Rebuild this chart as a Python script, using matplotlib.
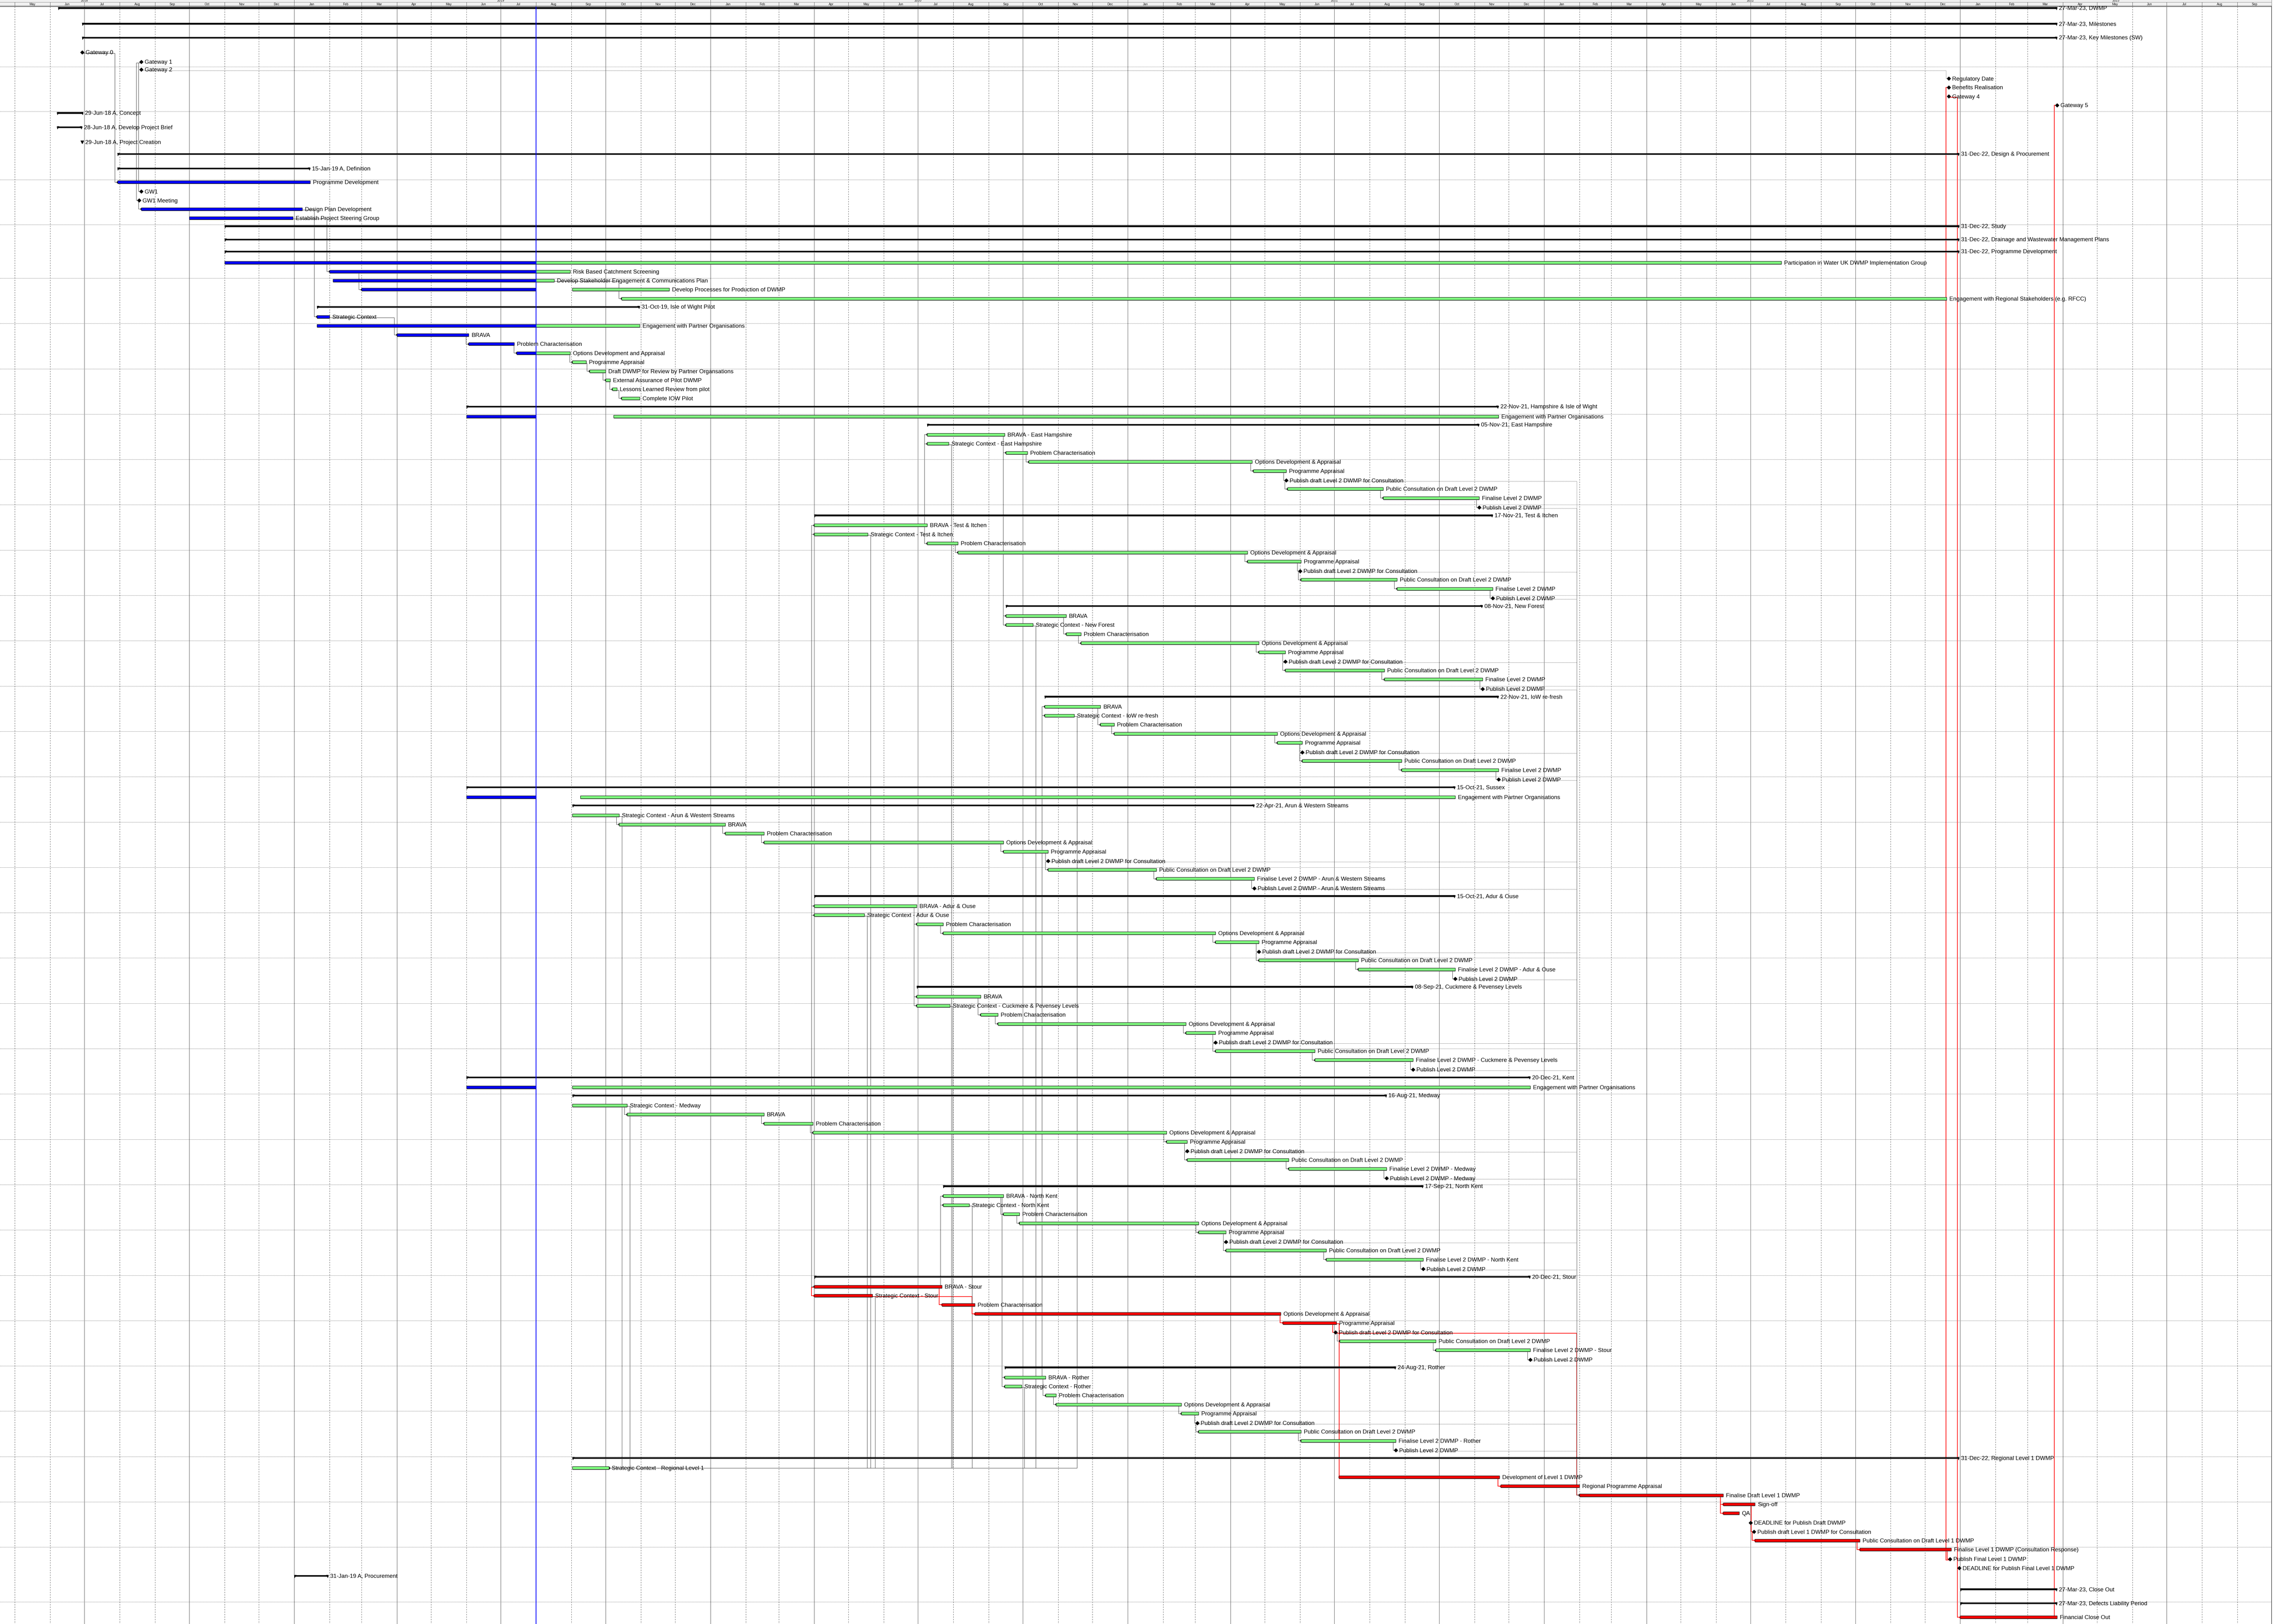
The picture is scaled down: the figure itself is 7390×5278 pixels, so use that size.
import matplotlib
matplotlib.use('Agg')
import matplotlib.pyplot as plt
import matplotlib.dates as mdates
from matplotlib.patches import Rectangle, Polygon
import numpy as np
import datetime as dt

plt.rcParams['font.family'] = ['Liberation Sans', 'DejaVu Sans']

# ---------------------------------------------------------------- data
DATA_DATE = '2019-08-01'
VIEW_END = '2023-10-01'

labels = [
    # 0-9
    '27-Mar-23, DWMP', '27-Mar-23, Milestones', '27-Mar-23, Key Milestones (SW)', 'Gateway 0', 'Gateway 1',
    'Gateway 2', 'Regulatory Date', 'Benefits Realisation', 'Gateway 4', 'Gateway 5',
    # 10-19
    '29-Jun-18 A, Concept', '28-Jun-18 A, Develop Project Brief', '29-Jun-18 A, Project Creation',
    '31-Dec-22, Design & Procurement', '15-Jan-19 A, Definition', 'Programme Development', 'GW1', 'GW1 Meeting',
    'Design Plan Development', 'Establish Project Steering Group',
    # 20-29
    '31-Dec-22, Study', '31-Dec-22, Drainage and Wastewater Management Plans', '31-Dec-22, Programme Development',
    'Participation in Water UK DWMP Implementation Group', 'Risk Based Catchment Screening',
    'Develop Stakeholder Engagement & Communications Plan', 'Develop Processes for Production of DWMP',
    'Engagement with Regional Stakeholders (e.g. RFCC)', '31-Oct-19, Isle of Wight Pilot', 'Strategic Context',
    # 30-40
    'Engagement with Partner Organisations', 'BRAVA', 'Problem Characterisation', 'Options Development and Appraisal',
    'Programme Appraisal', 'Draft DWMP for Review by Partner Organsations', 'External Assurance of Pilot DWMP',
    'Lessons Learned Review from pilot', 'Complete IOW Pilot', '22-Nov-21, Hampshire & Isle of Wight',
    'Engagement with Partner Organisations',
    # 41-50 East Hampshire
    '05-Nov-21, East Hampshire', 'BRAVA - East Hampshire', 'Strategic Context - East Hampshire',
    'Problem Characterisation', 'Options Development & Appraisal', 'Programme Appraisal',
    'Publish draft Level 2 DWMP for Consultation', 'Public Consultation on Draft Level 2 DWMP',
    'Finalise Level 2 DWMP', 'Publish Level 2 DWMP',
    # 51-60 Test & Itchen
    '17-Nov-21, Test & Itchen', 'BRAVA - Test & Itchen', 'Strategic Context - Test & Itchen',
    'Problem Characterisation', 'Options Development & Appraisal', 'Programme Appraisal',
    'Publish draft Level 2 DWMP for Consultation', 'Public Consultation on Draft Level 2 DWMP',
    'Finalise Level 2 DWMP', 'Publish Level 2 DWMP',
    # 61-70 New Forest
    '08-Nov-21, New Forest', 'BRAVA', 'Strategic Context - New Forest',
    'Problem Characterisation', 'Options Development & Appraisal', 'Programme Appraisal',
    'Publish draft Level 2 DWMP for Consultation', 'Public Consultation on Draft Level 2 DWMP',
    'Finalise Level 2 DWMP', 'Publish Level 2 DWMP',
    # 71-80 IoW re-fresh
    '22-Nov-21, IoW re-fresh', 'BRAVA', 'Strategic Context - IoW re-fresh',
    'Problem Characterisation', 'Options Development & Appraisal', 'Programme Appraisal',
    'Publish draft Level 2 DWMP for Consultation', 'Public Consultation on Draft Level 2 DWMP',
    'Finalise Level 2 DWMP', 'Publish Level 2 DWMP',
    # 81-82 Sussex
    '15-Oct-21, Sussex', 'Engagement with Partner Organisations',
    # 83-92 Arun & Western Streams
    '22-Apr-21, Arun & Western Streams', 'Strategic Context - Arun & Western Streams', 'BRAVA',
    'Problem Characterisation', 'Options Development & Appraisal', 'Programme Appraisal',
    'Publish draft Level 2 DWMP for Consultation', 'Public Consultation on Draft Level 2 DWMP',
    'Finalise Level 2 DWMP - Arun & Western Streams', 'Publish Level 2 DWMP - Arun & Western Streams',
    # 93-102 Adur & Ouse
    '15-Oct-21, Adur & Ouse', 'BRAVA - Adur & Ouse', 'Strategic Context - Adur & Ouse',
    'Problem Characterisation', 'Options Development & Appraisal', 'Programme Appraisal',
    'Publish draft Level 2 DWMP for Consultation', 'Public Consultation on Draft Level 2 DWMP',
    'Finalise Level 2 DWMP - Adur & Ouse', 'Publish Level 2 DWMP',
    # 103-112 Cuckmere & Pevensey Levels
    '08-Sep-21, Cuckmere & Pevensey Levels', 'BRAVA', 'Strategic Context - Cuckmere & Pevensey Levels',
    'Problem Characterisation', 'Options Development & Appraisal', 'Programme Appraisal',
    'Publish draft Level 2 DWMP for Consultation', 'Public Consultation on Draft Level 2 DWMP',
    'Finalise Level 2 DWMP - Cuckmere & Pevensey Levels', 'Publish Level 2 DWMP',
    # 113-114 Kent
    '20-Dec-21, Kent', 'Engagement with Partner Organisations',
    # 115-124 Medway
    '16-Aug-21, Medway', 'Strategic Context - Medway', 'BRAVA',
    'Problem Characterisation', 'Options Development & Appraisal', 'Programme Appraisal',
    'Publish draft Level 2 DWMP for Consultation', 'Public Consultation on Draft Level 2 DWMP',
    'Finalise Level 2 DWMP - Medway', 'Publish Level 2 DWMP - Medway',
    # 125-134 North Kent
    '17-Sep-21, North Kent', 'BRAVA - North Kent', 'Strategic Context - North Kent',
    'Problem Characterisation', 'Options Development & Appraisal', 'Programme Appraisal',
    'Publish draft Level 2 DWMP for Consultation', 'Public Consultation on Draft Level 2 DWMP',
    'Finalise Level 2 DWMP - North Kent', 'Publish Level 2 DWMP',
    # 135-144 Stour
    '20-Dec-21, Stour', 'BRAVA - Stour', 'Strategic Context - Stour',
    'Problem Characterisation', 'Options Development & Appraisal', 'Programme Appraisal',
    'Publish draft Level 2 DWMP for Consultation', 'Public Consultation on Draft Level 2 DWMP',
    'Finalise Level 2 DWMP - Stour', 'Publish Level 2 DWMP',
    # 145-154 Rother
    '24-Aug-21, Rother', 'BRAVA - Rother', 'Strategic Context - Rother',
    'Problem Characterisation', 'Options Development & Appraisal', 'Programme Appraisal',
    'Publish draft Level 2 DWMP for Consultation', 'Public Consultation on Draft Level 2 DWMP',
    'Finalise Level 2 DWMP - Rother', 'Publish Level 2 DWMP',
    # 155-167 Regional Level 1
    '31-Dec-22, Regional Level 1 DWMP', 'Strategic Context - Regional Level 1', 'Development of Level 1 DWMP',
    'Regional Programme Appraisal', 'Finalise Draft Level 1 DWMP', 'Sign-off', 'QA',
    'DEADLINE for Publish Draft DWMP', 'Publish draft Level 1 DWMP for Consultation',
    'Public Consultation on Draft Level 1 DWMP', 'Finalise Level 1 DWMP (Consultation Response)',
    'Publish Final Level 1 DWMP', 'DEADLINE for Publish Final Level 1 DWMP',
    # 168-171
    '31-Jan-19 A, Procurement', '27-Mar-23, Close Out', '27-Mar-23, Defects Liability Period', 'Financial Close Out',
]

# S summary, A actual, R remaining, C critical, AR actual+remaining, M milestone, MD completed milestone
CATCH = ['S', 'R', 'R', 'R', 'R', 'R', 'M', 'R', 'R', 'M']
kinds = (['S', 'S', 'S', 'M', 'M', 'M', 'M', 'M', 'M', 'M',
          'S', 'S', 'MD', 'S', 'S', 'A', 'M', 'M', 'A', 'A',
          'S', 'S', 'S', 'AR', 'AR', 'AR', 'AR', 'R', 'S', 'A',
          'AR', 'A', 'A', 'AR', 'R', 'R', 'R', 'R', 'R', 'S', 'AR']
         + CATCH * 4 + ['S', 'AR'] + CATCH * 3 + ['S', 'AR'] + CATCH * 2
         + ['S', 'C', 'C', 'C', 'C', 'C', 'M', 'R', 'R', 'M'] + CATCH
         + ['S', 'R', 'C', 'C', 'C', 'C', 'C', 'M', 'M', 'C', 'C', 'M', 'M']
         + ['S', 'S', 'S', 'C'])

starts = [
    '2018-06-08', '2018-06-29', '2018-06-29', '2018-06-29', '2018-08-20',
    '2018-08-20', '2022-12-22', '2022-12-22', '2022-12-22', '2023-03-27',
    '2018-06-07', '2018-06-07', '2018-06-29', '2018-07-30', '2018-07-30',
    '2018-07-30', '2018-08-20', '2018-08-18', '2018-08-20', '2018-10-01',
    '2018-11-01', '2018-11-01', '2018-11-01', '2018-11-01', '2019-02-01',
    '2019-02-04', '2019-03-01', '2019-10-15', '2019-01-21', '2019-01-21',
    '2019-01-21', '2019-04-01', '2019-06-03', '2019-07-15', '2019-09-02',
    '2019-09-17', '2019-10-01', '2019-10-07', '2019-10-15', '2019-06-01', '2019-06-01',
    # East Hampshire
    '2020-07-09', '2020-07-09', '2020-07-09', '2020-09-16', '2020-10-06',
    '2021-04-21', '2021-05-20', '2021-05-21', '2021-08-13', '2021-11-05',
    # Test & Itchen
    '2020-04-01', '2020-04-01', '2020-04-01', '2020-07-09', '2020-08-05',
    '2021-04-16', '2021-06-01', '2021-06-02', '2021-08-25', '2021-11-17',
    # New Forest
    '2020-09-16', '2020-09-16', '2020-09-16', '2020-11-08', '2020-11-21',
    '2021-04-26', '2021-05-19', '2021-05-19', '2021-08-14', '2021-11-08',
    # IoW re-fresh
    '2020-10-20', '2020-10-20', '2020-10-20', '2020-12-08', '2020-12-20',
    '2021-05-12', '2021-06-03', '2021-06-03', '2021-08-29', '2021-11-22',
    # Sussex
    '2019-06-01', '2019-06-01',
    # Arun & Western Streams
    '2019-09-02', '2019-09-02', '2019-10-13', '2020-01-14', '2020-02-17',
    '2020-09-14', '2020-10-23', '2020-10-23', '2021-01-26', '2021-04-22',
    # Adur & Ouse
    '2020-04-01', '2020-04-01', '2020-04-01', '2020-06-30', '2020-07-23',
    '2021-03-19', '2021-04-26', '2021-04-26', '2021-07-22', '2021-10-15',
    # Cuckmere
    '2020-06-30', '2020-06-30', '2020-06-30', '2020-08-25', '2020-09-09',
    '2021-02-21', '2021-03-19', '2021-03-19', '2021-06-14', '2021-09-08',
    # Kent
    '2019-06-01', '2019-06-01',
    # Medway
    '2019-09-02', '2019-09-02', '2019-10-20', '2020-02-17', '2020-03-31',
    '2021-02-04', '2021-02-22', '2021-02-22', '2021-05-22', '2021-08-16',
    # North Kent
    '2020-07-23', '2020-07-23', '2020-07-23', '2020-09-14', '2020-09-28',
    '2021-03-04', '2021-03-28', '2021-03-28', '2021-06-24', '2021-09-17',
    # Stour
    '2020-04-01', '2020-04-01', '2020-04-01', '2020-07-22', '2020-08-20',
    '2021-05-17', '2021-07-02', '2021-07-06', '2021-09-28', '2021-12-20',
    # Rother
    '2020-09-15', '2020-09-15', '2020-09-15', '2020-10-21', '2020-10-30',
    '2021-02-17', '2021-03-03', '2021-03-04', '2021-06-02', '2021-08-24',
    # Regional Level 1
    '2019-09-02', '2019-09-02', '2021-07-05', '2021-11-24', '2022-02-01',
    '2022-06-07', '2022-06-07', '2022-07-01', '2022-07-04', '2022-07-05',
    '2022-10-05', '2022-12-23', '2022-12-31',
    # Procurement / close out
    '2019-01-01', '2023-01-01', '2023-01-01', '2023-01-01',
]

finishes = [
    '2023-03-27', '2023-03-27', '2023-03-27', '2018-06-29', '2018-08-20',
    '2018-08-20', '2022-12-22', '2022-12-22', '2022-12-22', '2023-03-27',
    '2018-06-30', '2018-06-29', '2018-06-29', '2022-12-31', '2019-01-15',
    '2019-01-15', '2018-08-20', '2018-08-18', '2019-01-08', '2018-12-31',
    '2022-12-31', '2022-12-31', '2022-12-31', '2022-07-28', '2019-08-31',
    '2019-08-17', '2019-11-26', '2022-12-20', '2019-10-31', '2019-02-01',
    '2019-10-31', '2019-06-03', '2019-07-13', '2019-08-31', '2019-09-14',
    '2019-10-01', '2019-10-05', '2019-10-11', '2019-10-31', '2021-11-22', '2021-11-22',
    # East Hampshire
    '2021-11-05', '2020-09-15', '2020-07-28', '2020-10-05', '2021-04-20',
    '2021-05-20', '2021-05-20', '2021-08-13', '2021-11-05', '2021-11-05',
    # Test & Itchen
    '2021-11-17', '2020-07-09', '2020-05-18', '2020-08-05', '2021-04-16',
    '2021-06-02', '2021-06-01', '2021-08-25', '2021-11-17', '2021-11-17',
    # New Forest
    '2021-11-08', '2020-11-08', '2020-10-10', '2020-11-21', '2021-04-26',
    '2021-05-19', '2021-05-19', '2021-08-14', '2021-11-08', '2021-11-08',
    # IoW re-fresh
    '2021-11-22', '2020-12-08', '2020-11-15', '2020-12-20', '2021-05-12',
    '2021-06-03', '2021-06-03', '2021-08-29', '2021-11-22', '2021-11-22',
    # Sussex
    '2021-10-15', '2021-10-15',
    # Arun & Western Streams
    '2021-04-22', '2019-10-13', '2020-01-14', '2020-02-17', '2020-09-14',
    '2020-10-23', '2020-10-23', '2021-01-26', '2021-04-22', '2021-04-22',
    # Adur & Ouse
    '2021-10-15', '2020-06-30', '2020-05-15', '2020-07-23', '2021-03-19',
    '2021-04-26', '2021-04-26', '2021-07-22', '2021-10-15', '2021-10-15',
    # Cuckmere
    '2021-09-08', '2020-08-25', '2020-07-29', '2020-09-09', '2021-02-21',
    '2021-03-19', '2021-03-19', '2021-06-14', '2021-09-08', '2021-09-08',
    # Kent
    '2021-12-20', '2021-12-20',
    # Medway
    '2021-08-16', '2019-10-20', '2020-02-17', '2020-03-31', '2021-02-04',
    '2021-02-22', '2021-02-22', '2021-05-22', '2021-08-16', '2021-08-16',
    # North Kent
    '2021-09-17', '2020-09-14', '2020-08-15', '2020-09-28', '2021-03-04',
    '2021-03-28', '2021-03-28', '2021-06-24', '2021-09-17', '2021-09-17',
    # Stour
    '2021-12-20', '2020-07-22', '2020-05-22', '2020-08-20', '2021-05-15',
    '2021-07-03', '2021-07-02', '2021-09-28', '2021-12-20', '2021-12-20',
    # Rother
    '2021-08-24', '2020-10-21', '2020-09-30', '2020-10-30', '2021-02-17',
    '2021-03-04', '2021-03-03', '2021-06-02', '2021-08-24', '2021-08-24',
    # Regional Level 1
    '2022-12-31', '2019-10-04', '2021-11-23', '2022-02-01', '2022-06-07',
    '2022-07-05', '2022-06-21', '2022-07-01', '2022-07-04', '2022-10-05',
    '2022-12-24', '2022-12-23', '2022-12-31',
    # Procurement / close out
    '2019-01-31', '2023-03-27', '2023-03-27', '2023-03-27',
]

# remaining work that restarts after a gap (otherwise it resumes at the data date)
remaining_starts = {26: '2019-09-02', 40: '2019-10-08', 82: '2019-09-09', 114: '2019-09-02'}

# catchment blocks (summary row) -- BRAVA listed before Strategic Context, or the reverse
brava_first_blocks = [41, 51, 61, 71, 93, 103, 125, 135, 145]
context_first_blocks = [83, 115]
REGIONAL_CONTEXT = 156
FINALISE_DRAFT_L1 = 159

# relationships: (predecessor, end, successor, end, routing, style)
links = [
    (3, 'F', 15, 'S', 'succ', 'n'), (4, 'F', 16, 'S', 'succ', 'n'), (4, 'F', 17, 'S', 'succ', 'n'),
    (17, 'F', 18, 'S', 'succ', 'n'), (18, 'F', 29, 'S', 'succ', 'n'), (19, 'F', 24, 'S', 'succ', 'n'),
    (24, 'S', 26, 'S', 'succ', 'n'), (25, 'F', 27, 'S', 'succ', 'n'), (29, 'F', 31, 'S', 'succ', 'n'),
    (31, 'F', 32, 'S', 'succ', 'n'), (32, 'F', 33, 'S', 'succ', 'n'), (33, 'F', 34, 'S', 'succ', 'n'),
    (34, 'F', 35, 'S', 'succ', 'n'), (35, 'F', 36, 'S', 'succ', 'n'), (36, 'F', 37, 'S', 'succ', 'n'),
    (37, 'F', 38, 'S', 'succ', 'n'), (5, 'F', 6, 'S', 'succ', 'd'),
    (52, 'F', 42, 'S', 'succ', 'n'), (52, 'F', 43, 'S', 'succ', 'n'),
    (118, 'F', 52, 'S', 'succ', 'n'), (118, 'F', 53, 'S', 'succ', 'n'),
    (118, 'F', 94, 'S', 'succ', 'n'), (118, 'F', 95, 'S', 'succ', 'n'),
    (118, 'F', 136, 'S', 'succ', 'n'), (118, 'F', 137, 'S', 'succ', 'n'),
    (136, 'S', 137, 'S', 'succ', 'c'),
    (94, 'F', 104, 'S', 'succ', 'n'), (94, 'F', 105, 'S', 'succ', 'n'),
    (136, 'F', 126, 'S', 'succ', 'n'), (136, 'F', 127, 'S', 'succ', 'n'),
    (42, 'F', 62, 'S', 'succ', 'n'), (42, 'F', 63, 'S', 'succ', 'n'),
    (126, 'F', 146, 'S', 'succ', 'n'), (126, 'F', 147, 'S', 'succ', 'n'),
    (146, 'F', 72, 'S', 'succ', 'n'), (146, 'F', 73, 'S', 'succ', 'n'),
    (137, 'F', 139, 'S', 'succ', 'c'),
    (140, 'F', 157, 'S', 'pred', 'c'), (157, 'F', 158, 'S', 'succ', 'c'), (158, 'F', 159, 'S', 'succ', 'c'),
    (159, 'F', 160, 'S', 'succ', 'c'), (159, 'F', 161, 'S', 'succ', 'c'), (160, 'F', 163, 'S', 'succ', 'c'),
    (163, 'F', 164, 'S', 'succ', 'c'), (164, 'F', 165, 'S', 'succ', 'c'), (165, 'F', 166, 'S', 'succ', 'c'),
    (166, 'F', 7, 'S', 'succ', 'c'), (8, 'F', 171, 'S', 'succ', 'c'), (171, 'F', 9, 'S', 'succ', 'c'),
]
for b in brava_first_blocks + context_first_blocks:
    if b in brava_first_blocks:
        brava, ctx = b + 1, b + 2
    else:
        ctx, brava = b + 1, b + 2
        links.append((ctx, 'F', brava, 'S', 'succ', 'n'))
    crit = (b == 135)
    chain = [brava, b + 3, b + 4, b + 5, b + 6, b + 7, b + 8, b + 9]
    for i, (p, s) in enumerate(zip(chain[:-1], chain[1:])):
        links.append((p, 'F', s, 'S', 'succ', 'c' if (crit and i < 4) else 'n'))
    links.append((ctx, 'F', REGIONAL_CONTEXT, 'F', 'pred', 'n'))
    links.append((b + 6, 'F', FINALISE_DRAFT_L1, 'S', 'succ', 'c' if crit else 'd'))
    links.append((b + 9, 'F', FINALISE_DRAFT_L1, 'S', 'succ', 'd'))

MONTHS = ['Jan', 'Feb', 'Mar', 'Apr', 'May', 'Jun', 'Jul', 'Aug', 'Sep', 'Oct', 'Nov', 'Dec']

# ---------------------------------------------------------------- layout
W, H, DPI = 7390, 5278, 100
HEADER = 21.0
PPD = 3.706                      # pixels per day
row_h = ([51, 45.5, 43, 31, 25.5] + [29] * 5 + [46.5, 44.5, 42.5, 47, 41.5] + [29.2] * 5
         + [43.4, 39, 34, 28.5, 29] + [29.46] * 143 + [43.5, 45.5, 42.5, 29.5])
tops = HEADER + np.concatenate([[0.0], np.cumsum(row_h)[:-1]])

def num(d):
    return mdates.datestr2num(d)

def px(n):
    return n / PPD

X0 = num('2019-01-01') - 956 / PPD
X1 = X0 + W / PPD
XEND = num(VIEW_END)
DD = num(DATA_DATE)

def ycen(i):
    k = kinds[i]
    if k == 'S':
        return tops[i] + 4.5
    if k in ('M', 'MD'):
        return tops[i] + 9.0
    return tops[i] + 7.5

fig = plt.figure(figsize=(W / DPI, H / DPI), dpi=DPI)
ax = fig.add_axes([0, 0, 1, 1])
ax.set_xlim(X0, X1)
ax.set_ylim(H, 0)
ax.axis('off')

LW1 = 0.72  # one pixel

# ---------------------------------------------------------------- grid
months = []
y0, m0 = 2018, 4
while (y0, m0) <= (2023, 11):
    months.append(dt.date(y0, m0, 1))
    m0 += 1
    if m0 > 12:
        m0, y0 = 1, y0 + 1
for d in months:
    x = mdates.date2num(d)
    if x > XEND:
        continue
    if d.month in (1, 4, 7, 10):
        ax.plot([x, x], [HEADER, H], color='#383838', lw=LW1, zorder=1)
    else:
        ax.plot([x, x], [HEADER, H], color='#383838', lw=LW1, ls=(0, (4, 4)), zorder=1)
for i in range(5, len(row_h), 5):
    ax.plot([X0, XEND], [tops[i], tops[i]], color='#505050', lw=LW1, ls=(0, (1.5, 1.5)), zorder=1)

ax.plot([DD, DD], [HEADER, H], color='#0000FF', lw=2.5 * LW1, zorder=8)
ax.plot([XEND, XEND], [0, H], color='#404040', lw=1.5 * LW1, zorder=12)

# ---------------------------------------------------------------- links
STUB = px(9)
style_map = {'n': ('#202020', LW1, '-'), 'd': ('#303030', LW1, (0, (1.5, 1.5))), 'c': ('#FF0000', 2 * LW1, '-')}

def attach_x(i, e):
    return num(starts[i]) if e == 'S' else num(finishes[i])

for p, pe, s, se, route, st in links:
    xp, xs = attach_x(p, pe), attach_x(s, se)
    yp, ys = ycen(p) + 3, ycen(s)
    if route == 'succ':
        xv = xs - STUB if se == 'S' else xs + STUB
    else:
        xv = xp + STUB if pe == 'F' else xp - STUB
    col, lw, ls = style_map[st]
    ax.plot([xp, xv, xv, xs], [yp, yp, ys, ys], color=col, lw=lw, ls=ls, zorder=3,
            solid_joinstyle='miter')
    ax.plot([xs], [ys], marker='>' if xs >= xv else '<', ms=3.5, color=col, zorder=3.5)

# ---------------------------------------------------------------- bars
COL = {'A': '#0000FF', 'R': '#80FF80', 'C': '#FF0000'}

def bar(x0, x1, y, color):
    h = 9.0
    ax.add_patch(Rectangle((x0 + px(1), y - h / 2 + 2), x1 - x0, h, facecolor='#7c7c7c',
                           edgecolor='none', zorder=5))
    ax.add_patch(Rectangle((x0, y - h / 2), x1 - x0, h, facecolor=color, edgecolor='#000000',
                           linewidth=0.9, zorder=5.2))

def summary(x0, x1, y):
    h = 4.5
    ax.add_patch(Rectangle((x0, y + h / 2), x1 - x0, 2.0, facecolor='#b0b0b0', edgecolor='none', zorder=5))
    ax.add_patch(Rectangle((x0, y - h / 2), x1 - x0, h, facecolor='black', edgecolor='black', lw=0.4, zorder=5.2))
    tw = px(7)
    ax.add_patch(Polygon([(x0, y - h / 2), (x0 + tw, y - h / 2), (x0 + px(1.5), y + h / 2 + 5)],
                         closed=True, facecolor='black', edgecolor='black', lw=0.4, zorder=5.3))
    ax.add_patch(Polygon([(x1 - tw, y - h / 2), (x1, y - h / 2), (x1 - px(1.5), y + h / 2 + 5)],
                         closed=True, facecolor='black', edgecolor='black', lw=0.4, zorder=5.3))

FS = 13.5
for i, lab in enumerate(labels):
    k = kinds[i]
    xs, xf = num(starts[i]), num(finishes[i])
    y = ycen(i)
    if k == 'S':
        summary(xs, xf, y)
        tx = xf + px(6)
    elif k in ('A', 'R', 'C'):
        bar(xs, xf, y, COL[k])
        tx = xf + px(9)
    elif k == 'AR':
        bar(xs, DD, y, COL['A'])
        rs = num(remaining_starts.get(i, DATA_DATE))
        bar(rs, xf, y, COL['R'])
        tx = xf + px(9)
    elif k == 'M':
        ax.plot([xf], [y], marker='D', ms=6.3, color='black', zorder=7)
        tx = xf + px(11)
    else:  # completed milestone
        ax.plot([xf], [y], marker='v', ms=6.5, color='black', zorder=7)
        tx = xf + px(10)
    ax.text(tx, y + 2, lab, fontsize=FS, va='center', ha='left', color='black', zorder=20)

# ---------------------------------------------------------------- header
ax.add_patch(Rectangle((X0, 0), XEND - X0, HEADER, facecolor='#F0F0F0', edgecolor='none', zorder=15))
ax.plot([X0, XEND], [7, 7], color='#808080', lw=LW1, zorder=16)
ax.plot([X0, XEND], [19.3, 19.3], color='#202020', lw=LW1, zorder=16)
ax.plot([X0, XEND], [21.2, 21.2], color='#202020', lw=LW1, zorder=16)
for j, d in enumerate(months[:-1]):
    x = mdates.date2num(d)
    xn = mdates.date2num(months[j + 1])
    if x >= XEND:
        break
    ax.plot([x, x], [7, 19.3], color='#505050', lw=LW1, zorder=16)
    ax.text((x + min(xn, XEND)) / 2, 13.6, MONTHS[d.month - 1], fontsize=7.5, ha='center', va='center',
            zorder=17, color='#111111')
for yr in range(2018, 2024):
    js = num('%d-01-01' % yr)
    je = num('%d-01-01' % (yr + 1))
    if X0 < js < XEND:
        ax.plot([js, js], [0, 7], color='#505050', lw=LW1, zorder=16)
    if je <= XEND:
        xl = num('%d-07-01' % yr)
    else:
        xl = (max(js, X0) + XEND) / 2
    ax.text(xl, 2.2, str(yr), fontsize=7.5, ha='center', va='center', zorder=17, color='#111111')

fig.savefig('out.png', dpi=DPI, facecolor='white')
